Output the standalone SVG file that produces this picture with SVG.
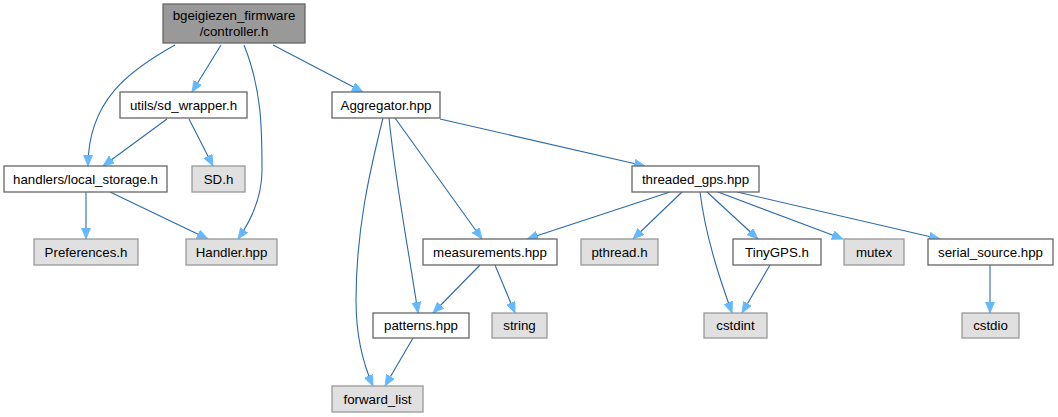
<svg xmlns="http://www.w3.org/2000/svg" width="1058" height="417" viewBox="0 0 1058 417">
<style>
.n rect{fill:#ffffff;stroke:#666666;stroke-width:1.3}
.g rect{fill:#e0e0e0;stroke:#999999;stroke-width:1.3}
.r rect{fill:#999999;stroke:#666666;stroke-width:1.3}
text{font-family:"Liberation Sans",Arial,sans-serif;font-size:13.3px;fill:#000;text-anchor:middle}
.e path{fill:none;stroke:#2a6aab;stroke-width:1.1;marker-end:url(#a)}
</style>
<defs>
<marker id="a" markerUnits="userSpaceOnUse" markerWidth="13" markerHeight="10" refX="11" refY="4.5" orient="auto">
<path d="M0,0 L11,4.5 L0,9 z" fill="#63b8ff" stroke="#63b8ff" stroke-width="0.8"/>
</marker>
</defs>
<rect width="1058" height="417" fill="#ffffff"/>
<g id="edges" class="e">
<path d="M175,45 C130,70 88,100 88,166"/>
<path d="M221,45 L192,92"/>
<path d="M244,45 C262,90 262,130 262,170 C262,200 250,222 238,239"/>
<path d="M273,45 L363,92"/>
<path d="M167,119 L103,166"/>
<path d="M189,119 L213,166"/>
<path d="M86,192 L86,239"/>
<path d="M110,192 L208,239"/>
<path d="M383,118 C370,170 356,230 356,300 C356,340 364,366 373,386"/>
<path d="M389,118 C395,180 407,240 418,313"/>
<path d="M395,118 L482,239"/>
<path d="M440,119 L645,166"/>
<path d="M670,192 L527,239"/>
<path d="M682,192 L633,239"/>
<path d="M700,192 C706,240 722,285 732,313"/>
<path d="M707,192 L758,239"/>
<path d="M718,192 L843,239"/>
<path d="M737,192 L940,239"/>
<path d="M480,265 L433,313"/>
<path d="M495,265 L515,313"/>
<path d="M770,265 L742,313"/>
<path d="M990,265 L990,313"/>
<path d="M413,338 L385,386"/>
</g>
<g id="root" class="r"><rect x="163" y="4" width="142" height="39"/><text x="234" y="20">bgeigiezen_firmware</text><text x="234" y="36">/controller.h</text></g>
<g id="sd_wrapper" class="n"><rect x="120" y="92" width="127" height="26"/><text x="183.5" y="110">utils/sd_wrapper.h</text></g>
<g id="aggregator" class="n"><rect x="332" y="92" width="108" height="26"/><text x="386" y="110">Aggregator.hpp</text></g>
<g id="local_storage" class="n"><rect x="4" y="166" width="163" height="26"/><text x="85.5" y="184">handlers/local_storage.h</text></g>
<g id="sd_h" class="g"><rect x="192" y="166" width="53" height="26"/><text x="218.5" y="184">SD.h</text></g>
<g id="threaded_gps" class="n"><rect x="632" y="166" width="127" height="26"/><text x="695.5" y="184">threaded_gps.hpp</text></g>
<g id="preferences" class="g"><rect x="34" y="239" width="104" height="26"/><text x="86" y="257">Preferences.h</text></g>
<g id="handler" class="g"><rect x="186" y="239" width="91" height="26"/><text x="231.5" y="257">Handler.hpp</text></g>
<g id="measurements" class="n"><rect x="423" y="239" width="134" height="26"/><text x="490" y="257">measurements.hpp</text></g>
<g id="pthread" class="g"><rect x="581" y="239" width="77" height="26"/><text x="619.5" y="257">pthread.h</text></g>
<g id="tinygps" class="n"><rect x="733" y="239" width="88" height="26"/><text x="777" y="257">TinyGPS.h</text></g>
<g id="mutex" class="g"><rect x="844" y="239" width="60" height="26"/><text x="874" y="257">mutex</text></g>
<g id="serial_source" class="n"><rect x="928" y="239" width="125" height="26"/><text x="990.5" y="257">serial_source.hpp</text></g>
<g id="patterns" class="n"><rect x="373" y="313" width="96" height="25"/><text x="421" y="330">patterns.hpp</text></g>
<g id="string" class="g"><rect x="492" y="313" width="55" height="25"/><text x="519.5" y="330">string</text></g>
<g id="cstdint" class="g"><rect x="704" y="313" width="63" height="25"/><text x="735.5" y="330">cstdint</text></g>
<g id="cstdio" class="g"><rect x="962" y="313" width="57" height="25"/><text x="990.5" y="330">cstdio</text></g>
<g id="forward_list" class="g"><rect x="332" y="386" width="91" height="26"/><text x="377.5" y="404">forward_list</text></g>
</svg>
